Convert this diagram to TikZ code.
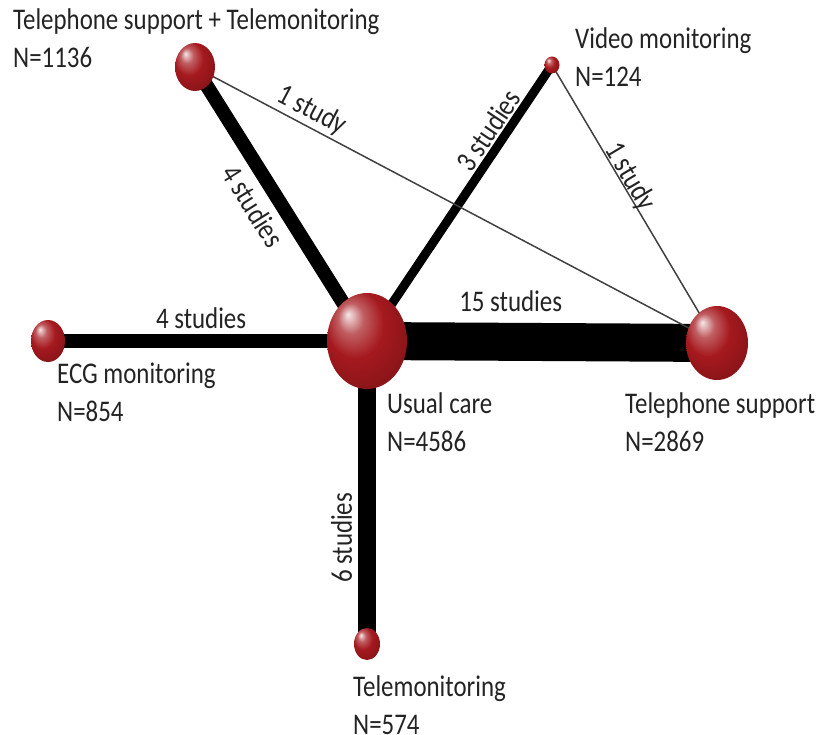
\documentclass[tikz,border=0pt]{standalone}
\usepackage{fontspec}
\setmainfont{Carlito}[FakeStretch=0.83]
\usetikzlibrary{calc}
\usetikzlibrary{shapes}
\usetikzlibrary{backgrounds,positioning}
\definecolor{kugelrot}{RGB}{165,25,30}
\definecolor{schriftgrau}{RGB}{35,35,35}
\pgfdeclareradialshading{kugel}{\pgfqpoint{-12bp}{14bp}}{%
  color(0bp)=(kugelrot!10!white); color(8bp)=(kugelrot!70!white);
  color(18bp)=(kugelrot); color(30bp)=(kugelrot!85!black);
  color(50bp)=(kugelrot!65!black)}
\tikzset{
    %Define style for the spheres
    punkt/.style={
           ellipse,
           shade,
           shading=kugel,
           inner sep=0pt},
    %Define style for the group labels
    schrift/.style={
           align=left,
           inner sep=0pt,
           anchor=base west,
           text=schriftgrau,
           font=\fontsize{30}{38}\selectfont},
    % Define edge styles
    kante/.style={
           line width=#1,
           draw=black},
    duenn/.style={
           line width=1.5pt,
           draw=black!75},
    % Define style for the number of studies
    zahl/.style={
           sloped,
           inner sep=0pt,
           outer sep=0pt,
           text=schriftgrau,
           font=\fontsize{30}{38}\selectfont},
}

\begin{document}
\begin{tikzpicture}[x=1pt,y=-1pt]
\useasboundingbox (0,0) rectangle (820,735);

% Kugeln
\node[punkt, minimum width=80pt, minimum height=96pt] (UC) at (367,341) {};
\node[punkt, minimum width=62pt, minimum height=74pt] (TS) at (717,343) {};
\node[punkt, minimum width=40pt, minimum height=48pt] (TT) at (195,67) {};
\node[punkt, minimum width=15pt, minimum height=17pt] (VM) at (552,65) {};
\node[punkt, minimum width=34pt, minimum height=42pt] (ECG) at (48,341) {};
\node[punkt, minimum width=26pt, minimum height=32pt] (TM) at (367,644) {};

% Beschriftung (base = letzte Zeile)
\node[schrift] at ($ (TT) + (-182,1) $) {Telephone support + Telemonitoring\\N=1136};
\node[schrift] at ($ (VM) + (23,22) $) {Video monitoring\\N=124};
\node[schrift] at ($ (ECG) + (9,81) $) {ECG monitoring\\N=854};
\node[schrift] at ($ (UC) + (20,110) $) {Usual care\\N=4586};
\node[schrift] at ($ (TS) + (-92,108) $) {Telephone support\\N=2869};
\node[schrift] at ($ (TM) + (-14,90) $) {Telemonitoring\\N=574};

% Kanten
\begin{pgfonlayer}{background}
\draw[kante=38pt] (UC.center) -- node[zahl, pos=0.41, above=30pt] {15 studies} (TS.center);
\draw[kante=14pt] (ECG.center) -- node[zahl, pos=0.48, above=12pt] {4 studies} (UC.center);
\draw[kante=14pt] (TT.center) -- node[zahl, pos=0.46, below=14pt] {4 studies} (UC.center);
\draw[kante=9pt] (UC.center) -- node[zahl, pos=0.73, above=6pt] {3 studies} (VM.center);
\draw[kante=18pt] (TM.center) -- node[zahl, pos=0.35, above=15pt, allow upside down] {6 studies} (UC.center);
\draw[duenn] (TT.center) -- node[zahl, pos=0.21, above=3pt] {1 study} (TS.center);
\draw[duenn] (VM.center) -- node[zahl, pos=0.42, above=-3pt] {1 study} (TS.center);
\end{pgfonlayer}
\end{tikzpicture}
\end{document}
